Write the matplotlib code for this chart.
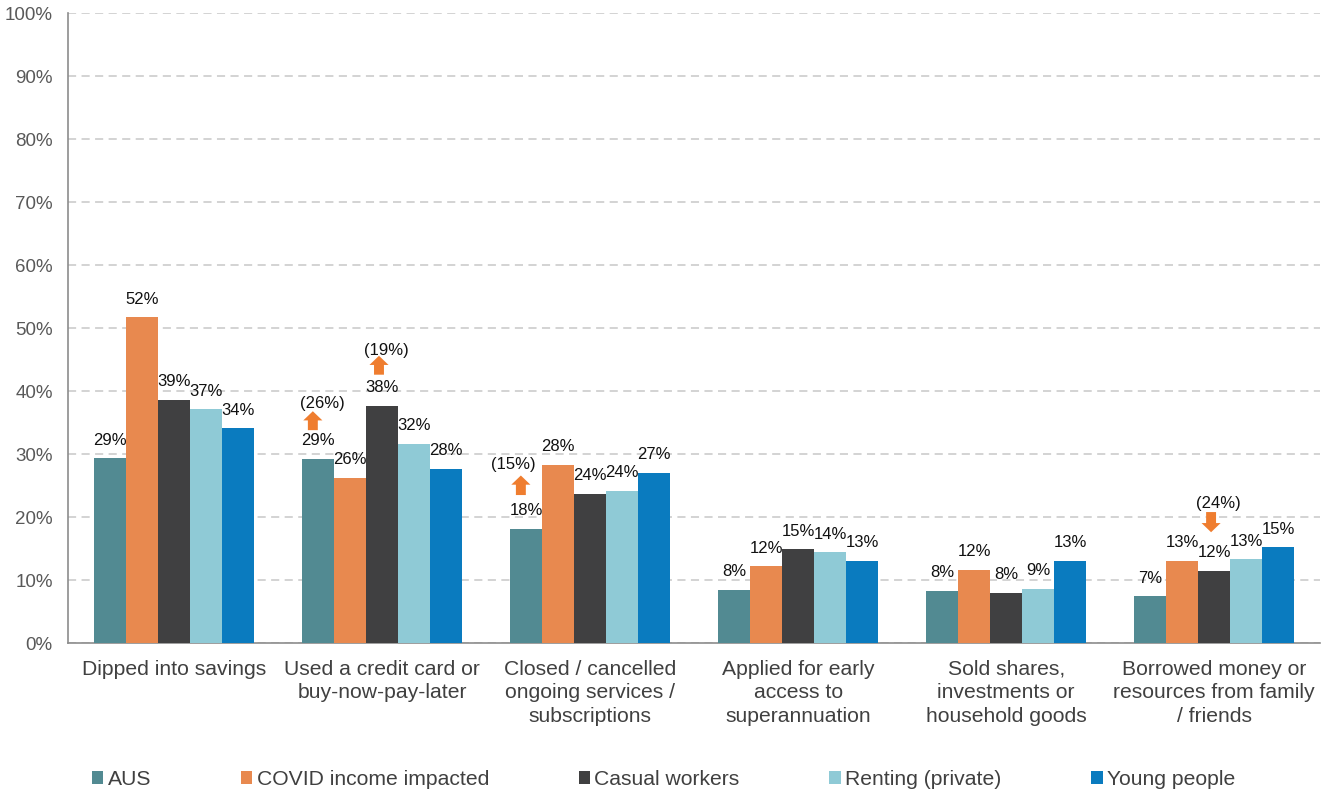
import numpy as np
import matplotlib
matplotlib.use("Agg")
import matplotlib.pyplot as plt
from matplotlib.patches import Patch

plt.rcParams['font.family'] = ['Liberation Sans', 'DejaVu Sans']

categories = ["Dipped into savings",
              "Used a credit card or\nbuy-now-pay-later",
              "Closed / cancelled\nongoing services /\nsubscriptions",
              "Applied for early\naccess to\nsuperannuation",
              "Sold shares,\ninvestments or\nhousehold goods",
              "Borrowed money or\nresources from family\n/ friends"]
series = ["AUS", "COVID income impacted", "Casual workers", "Renting (private)", "Young people"]
colors = ["#528A92", "#E8894F", "#404041", "#8FCAD6", "#0A7BBF"]

aus = [29.3, 29.2, 18.1, 8.4, 8.3, 7.4]
covid = [51.7, 26.2, 28.3, 12.2, 11.6, 13.0]
casual = [38.6, 37.6, 23.7, 14.9, 8.0, 11.5]
renting = [37.1, 31.6, 24.2, 14.4, 8.6, 13.3]
young = [34.1, 27.6, 27.0, 13.1, 13.0, 15.2]
values = [aus, covid, casual, renting, young]

# (category index, series index, change label, direction)
changes = [(1, 0, "(26%)", "up"),
           (1, 2, "(19%)", "up"),
           (2, 0, "(15%)", "up"),
           (5, 2, "(24%)", "down")]

fig = plt.figure(figsize=(13.28, 7.93), dpi=100)
ax = fig.add_axes([0.0512, 0.189, 0.943, 0.7946])

x = np.arange(len(categories))
w = 0.154
for i, (name, vals) in enumerate(zip(series, values)):
    xs = x + (i - 2) * w
    ax.bar(xs, vals, width=w, color=colors[i], label=name, zorder=3)
    for xi, v in zip(xs, vals):
        ax.text(xi, v + 1.7, f"{v:.0f}%", ha='center', va='bottom',
                fontsize=12, color='#111111', zorder=4)

orange = "#EF7D2F"
# arrow tail / head / label offsets above the bar top, plus x shifts (layout only)
layout = {
    (1, 0): (4.6, 7.6, 8.9, -0.025, 0.02),
    (1, 2): (5.0, 8.0, 8.9, -0.015, 0.02),
    (2, 0): (5.4, 8.5, 10.2, -0.025, -0.06),
    (5, 2): (9.3, 6.1, 10.6, -0.015, 0.02),
}
for ci, si, txt, d in changes:
    xb = x[ci] + (si - 2) * w
    top = values[si][ci]
    tail, head, lab, dxa, dxt = layout[(ci, si)]
    ax.annotate('', xy=(xb + dxa, top + head), xytext=(xb + dxa, top + tail),
                arrowprops=dict(arrowstyle='simple,head_length=0.6,head_width=1.25,tail_width=0.65',
                                fc=orange, ec='none', shrinkA=0, shrinkB=0,
                                mutation_scale=11), zorder=5)
    ax.text(xb + dxt, top + lab, txt, ha='center', va='center',
            fontsize=12, color='#111111')

ax.set_xlim(-0.51, 5.51)
ax.set_ylim(0, 100)
ax.set_yticks(np.arange(0, 101, 10))
ax.set_yticklabels([f"{t}%" for t in range(0, 101, 10)])
ax.tick_params(axis='y', length=0, pad=11, labelsize=13.5, labelcolor='#595959')
ax.set_xticks(x)
ax.set_xticklabels(categories, fontsize=15.2, color='#404040', linespacing=1.3)
ax.tick_params(axis='x', length=0, pad=12)

ax.yaxis.grid(True, color='#D0D0D0', linestyle=(0, (4.5, 3)), linewidth=1.3, zorder=0)
ax.set_axisbelow(True)
for s in ['top', 'right']:
    ax.spines[s].set_visible(False)
for s in ['left', 'bottom']:
    ax.spines[s].set_color('#8C8C8C')
    ax.spines[s].set_linewidth(1.2)

handles = [Patch(facecolor=c, edgecolor='none') for c in colors]
fig.legend(handles, series, loc='center left', bbox_to_anchor=(0.069, 0.017),
           ncol=5, frameon=False, fontsize=15.2, labelcolor='#404040',
           handlelength=0.55, handleheight=0.55, handletextpad=0.2,
           columnspacing=4.25, borderpad=0, borderaxespad=0)

fig.savefig("out.png", dpi=100)
